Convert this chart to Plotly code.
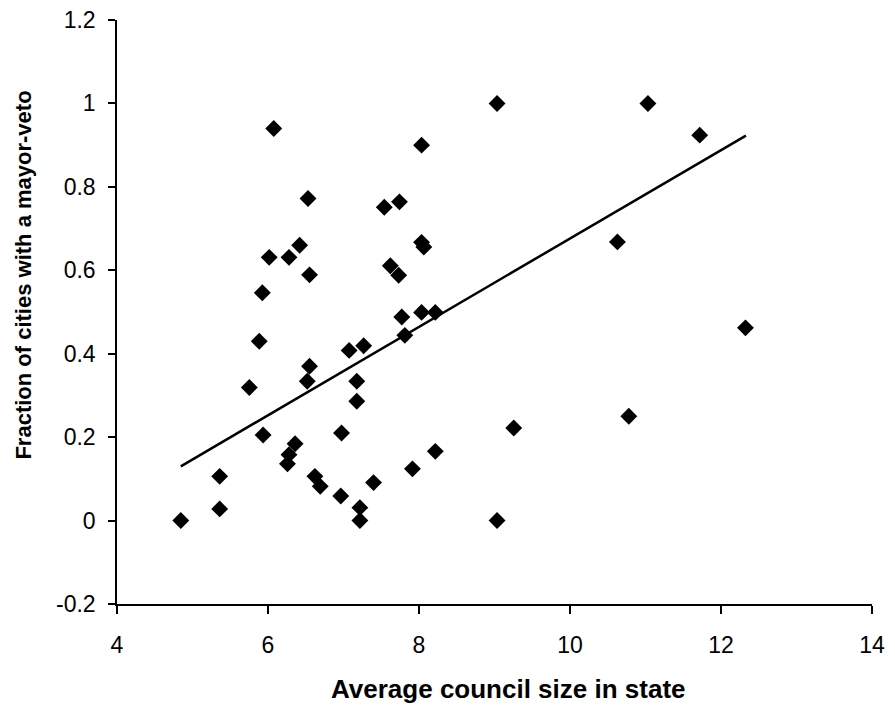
import plotly.graph_objects as go

council_size = [4.845, 5.36, 5.36, 5.753, 5.884, 5.925, 5.935, 6.016, 6.076, 6.278,
                6.419, 6.53, 6.55, 6.55, 6.52, 6.359, 6.278, 6.258, 6.621, 6.692,
                6.964, 6.974, 7.075, 7.176, 7.176, 7.267, 7.217, 7.217, 7.398, 7.54,
                7.62, 7.731, 7.741, 7.772, 7.812, 7.913, 8.034, 8.034, 8.064, 8.034,
                8.216, 8.216, 9.034, 9.034, 9.255, 10.628, 10.779, 11.032, 11.718, 12.324]
veto_fraction = [0.000, 0.106, 0.028, 0.319, 0.430, 0.546, 0.205, 0.631, 0.940, 0.631,
                 0.660, 0.772, 0.589, 0.370, 0.334, 0.184, 0.158, 0.136, 0.106, 0.082,
                 0.059, 0.210, 0.408, 0.334, 0.286, 0.419, 0.031, 0.000, 0.091, 0.751,
                 0.611, 0.588, 0.764, 0.488, 0.444, 0.124, 0.900, 0.667, 0.656, 0.499,
                 0.499, 0.166, 1.000, 0.000, 0.222, 0.668, 0.250, 1.000, 0.924, 0.462]

# Linear trend line as drawn in the chart (end points)
trend_x = [4.845, 12.33]
trend_y = [0.130, 0.923]

x_ticks = [4, 6, 8, 10, 12, 14]
y_ticks = [-0.2, 0, 0.2, 0.4, 0.6, 0.8, 1.0, 1.2]
y_tick_labels = ["-0.2", "0", "0.2", "0.4", "0.6", "0.8", "1", "1.2"]

fig = go.Figure()
fig.add_trace(go.Scatter(x=council_size, y=veto_fraction, mode="markers",
                         marker=dict(symbol="diamond", size=13, color="black",
                                     line=dict(width=0)),
                         showlegend=False, cliponaxis=False))
fig.add_trace(go.Scatter(x=trend_x, y=trend_y, mode="lines",
                         line=dict(color="black", width=2.5), showlegend=False))

font_family = "Liberation Sans, Arial, sans-serif"
# the page body adds an 8px margin around the figure, so size the figure to fit
fig.update_layout(
    width=887, height=703,
    margin=dict(l=109, r=23, t=12, b=107),
    paper_bgcolor="white", plot_bgcolor="white",
    font=dict(family=font_family, color="black", size=23),
    xaxis=dict(range=[4, 14], tickvals=x_ticks, showgrid=False, zeroline=False,
               showline=True, linecolor="black", linewidth=1.5,
               ticks="outside", ticklen=8, tickcolor="black", tickwidth=1.5,
               tickfont=dict(size=23), ticklabelstandoff=12, automargin=False,
               ticklabeloverflow="allow"),
    yaxis=dict(range=[-0.2, 1.2], tickvals=y_ticks, ticktext=y_tick_labels,
               showgrid=False, zeroline=False,
               showline=True, linecolor="black", linewidth=1.5,
               ticks="outside", ticklen=7, tickcolor="black", tickwidth=1.5,
               tickfont=dict(size=23), ticklabelstandoff=8, automargin=False,
               ticklabeloverflow="allow"),
    annotations=[
        dict(text="<b>Average council size in state</b>", xref="paper", yref="paper",
             x=0.518, y=-0.146, xanchor="center", yanchor="middle",
             showarrow=False, font=dict(size=26, family=font_family)),
        dict(text="<b>Fraction of cities with a mayor-veto</b>", xref="paper", yref="paper",
             x=-0.124, y=0.563, xanchor="center", yanchor="middle", textangle=-90,
             showarrow=False, font=dict(size=22, family=font_family)),
    ],
)

fig.write_html("out.html")
